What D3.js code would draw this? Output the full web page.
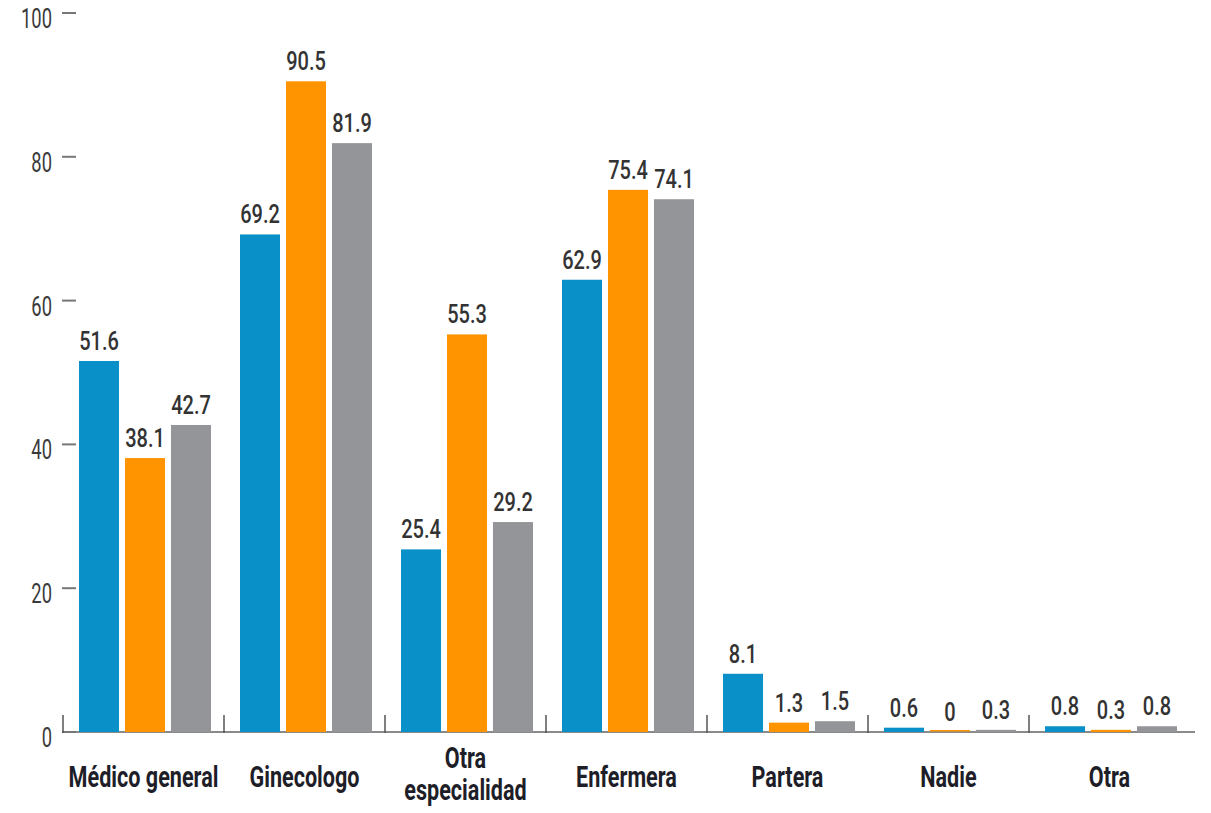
<!DOCTYPE html>
<html><head><meta charset="utf-8">
<script src="https://cdn.jsdelivr.net/npm/d3@7"></script>
<style>
body{margin:0;background:#fff;}
text{font-family:Roboto,"DejaVu Sans Condensed",sans-serif;}
</style></head>
<body><svg id="c" width="1211" height="813"></svg>
<script>
const categories = [["Médico general"],["Ginecologo"],["Otra","especialidad"],["Enfermera"],["Partera"],["Nadie"],["Otra"]];
const series = ["s1","s2","s3"];
const seriesColors = ["#0A90C8","#FF9300","#939598"];
const values1 = [51.6, 69.2, 25.4, 62.9, 8.1, 0.6, 0.8];
const values2 = [38.1, 90.5, 55.3, 75.4, 1.3, 0, 0.3];
const values3 = [42.7, 81.9, 29.2, 74.1, 1.5, 0.3, 0.8];
const yTicks = [0,20,40,60,80,100];

const svg = d3.select("#c");
const idx = categories.map((d,i)=>i);
const x = d3.scaleBand().domain(idx).range([63,1190]);
const xs = d3.scaleBand().domain(series).range([16,148]).paddingInner(0.13);
const y = d3.scaleLinear().domain([0,100]).range([732,13]);
const vals = [values1, values2, values3];

function stext(px, py, sx, anchor, size, weight, fill, str){
  const g = svg.append("g").attr("transform",`translate(${px},${py}) scale(${sx},1)`);
  return g.append("text").attr("x",0).attr("y",0).attr("text-anchor",anchor)
    .attr("font-size",size).attr("font-weight",weight).attr("fill",fill).text(str);
}

// baseline
svg.append("line").attr("x1",62).attr("x2",1195).attr("y1",y(0)).attr("y2",y(0))
  .attr("stroke","#8a8a8a").attr("stroke-width",2);

// y ticks
yTicks.forEach(t=>{
  svg.append("line").attr("x1",62).attr("x2",76).attr("y1",y(t)).attr("y2",y(t))
    .attr("stroke","#777").attr("stroke-width",2);
  stext(52, y(t)+15, 0.68, "end", 27, 400, "#3a3a3a", t);
});

// group separator ticks
idx.forEach(i=>{
  svg.append("line").attr("x1",x(i)).attr("x2",x(i)).attr("y1",y(0)-17).attr("y2",y(0)+1)
    .attr("stroke","#555").attr("stroke-width",1.5);
});

// bars
series.forEach((s,si)=>{
  idx.forEach(i=>{
    const v = vals[si][i];
    const bx = x(i)+xs(s);
    svg.append("rect").attr("x",bx).attr("width",xs.bandwidth())
      .attr("y",y(v)).attr("height",Math.max(0,y(0)-y(v)))
      .attr("fill",seriesColors[si]);
    if (v===0) svg.append("rect").attr("x",bx).attr("width",xs.bandwidth()).attr("y",y(0)-2).attr("height",1.5).attr("fill",seriesColors[si]);
    stext(bx+xs.bandwidth()/2, y(v)-11, 0.8, "middle", 25, 500, "#333", v);
  });
});

// category labels
idx.forEach(i=>{
  const lines = categories[i];
  const cx = x(i)+x.bandwidth()/2;
  lines.forEach((l,li)=>{
    const by = lines.length>1 ? 768+li*32 : 787;
    stext(cx, by, 0.72, "middle", 30, 700, "#1e1e28", l);
  });
});
</script></body></html>
